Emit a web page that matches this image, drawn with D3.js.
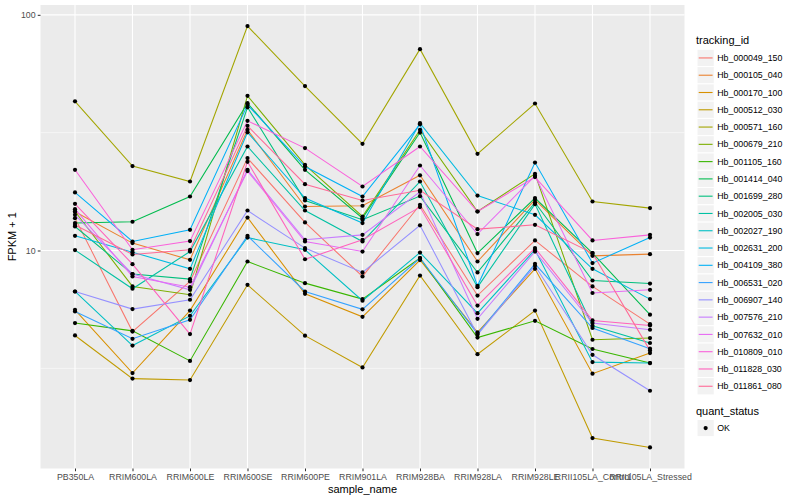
<!DOCTYPE html>
<html>
<head>
<meta charset="utf-8">
<script src="https://cdn.jsdelivr.net/npm/d3@7"></script>
<style>
  html, body { margin: 0; padding: 0; background: #ffffff; }
  svg { display: block; font-family: "Liberation Sans", Arial, Helvetica, sans-serif; }
</style>
</head>
<body>
<svg id="chart" width="800" height="500"></svg>
<script>
// ---------------- data ----------------
const samples = ["PB350LA","RRIM600LA","RRIM600LE","RRIM600SE","RRIM600PE","RRIM901LA",
  "RRIM928BA","RRIM928LA","RRIM928LE","RRII105LA_Control","RRII105LA_Stressed"];

const trackingIds = ["Hb_000049_150","Hb_000105_040","Hb_000170_100","Hb_000512_030","Hb_000571_160",
  "Hb_000679_210","Hb_001105_160","Hb_001414_040","Hb_001699_280","Hb_002005_030","Hb_002027_190",
  "Hb_002631_200","Hb_004109_380","Hb_006531_020","Hb_006907_140","Hb_007576_210","Hb_007632_010",
  "Hb_010809_010","Hb_011828_030","Hb_011861_080"];

// FPKM + 1 per sample (same order as samples)
const Hb_000049_150 = [13.72, 4.53, 7.39, 24.66, 13.15, 7.76, 15.63, 6.44, 11.03, 7.04, 4.87];
const Hb_000105_040 = [14.59, 10.75, 9.13, 32.5, 15.37, 15.48, 20.85, 8.98, 16.41, 9.49, 9.65];
const Hb_000170_100 = [5.60, 3.02, 5.56, 13.80, 6.55, 5.23, 9.11, 4.49, 8.36, 3.00, 3.67];
const Hb_000512_030 = [4.36, 2.86, 2.82, 7.15, 4.35, 3.19, 7.83, 3.63, 5.56, 1.60, 1.46];
const Hb_000571_160 = [42.95, 22.81, 19.62, 89.6, 49.85, 28.36, 71.5, 25.72, 42.04, 16.14, 15.13];
const Hb_000679_210 = [14.64, 7.04, 6.49, 45.33, 23.1, 13.94, 32.5, 14.64, 21.16, 4.18, 4.25];
const Hb_001105_160 = [4.92, 4.56, 3.40, 8.98, 7.27, 6.22, 9.29, 4.27, 5.03, 3.82, 3.33];
const Hb_001414_040 = [13.07, 13.24, 16.95, 42.2, 22.0, 13.72, 31.66, 9.75, 16.69, 9.75, 5.34];
const Hb_001699_280 = [12.64, 7.94, 7.56, 40.51, 16.30, 13.50, 17.01, 8.07, 15.98, 7.46, 7.24];
const Hb_002005_030 = [10.04, 6.88, 9.90, 27.62, 14.78, 10.92, 19.62, 6.99, 15.73, 4.79, 4.05];
const Hb_002027_190 = [6.70, 3.95, 5.28, 11.35, 10.07, 6.12, 9.80, 5.42, 10.07, 3.36, 3.33];
const Hb_002631_200 = [11.54, 9.84, 8.36, 31.73, 16.69, 13.07, 34.71, 17.11, 14.17, 8.36, 6.22];
const Hb_004109_380 = [17.63, 10.92, 12.24, 41.5, 22.72, 16.95, 34.3, 7.08, 23.62, 8.84, 11.35];
const Hb_006531_020 = [5.51, 4.22, 5.08, 11.54, 6.70, 5.63, 9.29, 4.43, 8.78, 4.69, 3.83];
const Hb_006907_140 = [6.70, 5.64, 6.18, 14.78, 10.24, 8.07, 12.79, 4.39, 8.61, 3.61, 2.54];
const Hb_007576_210 = [14.17, 7.94, 6.81, 22.0, 11.10, 11.65, 17.74, 5.13, 9.90, 4.92, 4.61];
const Hb_007632_010 = [14.98, 7.76, 6.99, 21.73, 10.92, 9.90, 22.94, 11.74, 20.75, 6.60, 6.81];
const Hb_010809_010 = [22.0, 10.07, 10.96, 35.5, 27.2, 18.69, 27.62, 14.64, 20.49, 11.03, 11.65];
const Hb_011828_030 = [15.78, 8.75, 4.42, 23.78, 9.18, 11.10, 15.28, 5.84, 10.24, 5.05, 4.81];
const Hb_011861_080 = [12.82, 9.62, 10.07, 33.8, 19.12, 16.30, 18.01, 12.32, 12.85, 9.75, 3.76];

const seriesValues = [Hb_000049_150, Hb_000105_040, Hb_000170_100, Hb_000512_030, Hb_000571_160,
  Hb_000679_210, Hb_001105_160, Hb_001414_040, Hb_001699_280, Hb_002005_030, Hb_002027_190,
  Hb_002631_200, Hb_004109_380, Hb_006531_020, Hb_006907_140, Hb_007576_210, Hb_007632_010,
  Hb_010809_010, Hb_011828_030, Hb_011861_080];

const quantStatus = ["OK"];
const yTickValues = [10, 100];
const yTickLabels = ["10", "100"];

// ---------------- colours (ggplot hue palette, polar LUV) ----------------
function hclLuv(h, c, l) {
  const hr = h * Math.PI / 180;
  const U = c * Math.cos(hr), V = c * Math.sin(hr);
  const Xn = 95.047, Yn = 100, Zn = 108.883;
  const Y = l > 8 ? Yn * Math.pow((l + 16) / 116, 3) : Yn * l / 903.3;
  const t = Xn + 15 * Yn + 3 * Zn;
  const un = 4 * Xn / t, vn = 9 * Yn / t;
  const u = U / (13 * l) + un, v = V / (13 * l) + vn;
  const X = 9 * Y * u / (4 * v);
  const Z = -X / 3 - 5 * Y + 3 * Y / v;
  const x = X / 100, y = Y / 100, z = Z / 100;
  let rgb = [
    3.240479 * x - 1.537150 * y - 0.498535 * z,
    -0.969256 * x + 1.875992 * y + 0.041556 * z,
    0.055648 * x - 0.204043 * y + 1.057311 * z
  ].map(q => {
    q = q <= 0.0031308 ? 12.92 * q : 1.055 * Math.pow(q, 1 / 2.4) - 0.055;
    return Math.round(Math.max(0, Math.min(1, q)) * 255);
  });
  return d3.rgb(rgb[0], rgb[1], rgb[2]).formatHex();
}
const n = trackingIds.length;
const colors = trackingIds.map((_, i) => hclLuv(15 + 360 / n * i, 100, 65));
const color = d3.scaleOrdinal().domain(trackingIds).range(colors);

// ---------------- layout ----------------
const svg = d3.select("#chart");
const panel = { left: 40.5, right: 684.5, top: 5, bottom: 468.5 };

const x = d3.scalePoint().domain(samples).range([panel.left, panel.right]).padding(0.6);

const allVals = seriesValues.flat();
const lmin = Math.log10(d3.min(allVals)), lmax = Math.log10(d3.max(allVals));
const ex = (lmax - lmin) * 0.05;
const y = d3.scaleLog().domain([Math.pow(10, lmin - ex), Math.pow(10, lmax + ex)])
  .range([panel.bottom, panel.top]);

// panel background
svg.append("rect").attr("x", panel.left).attr("y", panel.top)
  .attr("width", panel.right - panel.left).attr("height", panel.bottom - panel.top)
  .attr("fill", "#EBEBEB");

const grid = svg.append("g");
// minor y grid (half-decades in log space)
[Math.sqrt(10), Math.sqrt(1000)].forEach(v => {
  if (v > y.domain()[0] && v < y.domain()[1]) {
    grid.append("line").attr("x1", panel.left).attr("x2", panel.right)
      .attr("y1", y(v)).attr("y2", y(v)).attr("stroke", "#fff").attr("stroke-width", 0.55);
  }
});
yTickValues.forEach(v => {
  grid.append("line").attr("x1", panel.left).attr("x2", panel.right)
    .attr("y1", y(v)).attr("y2", y(v)).attr("stroke", "#fff").attr("stroke-width", 1.1);
});
samples.forEach(s => {
  grid.append("line").attr("x1", x(s)).attr("x2", x(s))
    .attr("y1", panel.top).attr("y2", panel.bottom).attr("stroke", "#fff").attr("stroke-width", 1.1);
});

// lines
const line = d3.line().x((d, i) => x(samples[i])).y(d => y(d));
svg.append("g").selectAll("path").data(seriesValues).join("path")
  .attr("d", d => line(d))
  .attr("fill", "none")
  .attr("stroke", (d, i) => color(trackingIds[i]))
  .attr("stroke-width", 1.05);

// points
const pts = [];
seriesValues.forEach((vals, i) => vals.forEach((v, j) => pts.push({ s: samples[j], v })));
svg.append("g").selectAll("circle").data(pts).join("circle")
  .attr("cx", d => x(d.s)).attr("cy", d => y(d.v)).attr("r", 2.1).attr("fill", "#000");

// axes
const yAxis = d3.axisLeft(y).tickValues(yTickValues)
  .tickFormat((d, i) => yTickLabels[i]).tickSize(2.75).tickPadding(2.2);
const gy = svg.append("g").attr("transform", `translate(${panel.left},0)`).call(yAxis);
const xAxis = d3.axisBottom(x).tickSize(2.75).tickPadding(2.2);
const gx = svg.append("g").attr("transform", `translate(0,${panel.bottom})`).call(xAxis);
[gx, gy].forEach(g => {
  g.select(".domain").remove();
  g.selectAll(".tick line").attr("stroke", "#333333").attr("stroke-width", 1.05);
  g.selectAll(".tick text").attr("fill", "#4D4D4D").style("font-size", "8.8px")
    .style("font-family", '"Liberation Sans", Arial, Helvetica, sans-serif');
});

// axis titles
svg.append("text").attr("x", (panel.left + panel.right) / 2).attr("y", 493)
  .attr("text-anchor", "middle").style("font-size", "11px").attr("fill", "#000").text("sample_name");
svg.append("text").attr("transform", `translate(16,${(panel.top + panel.bottom) / 2}) rotate(-90)`)
  .attr("text-anchor", "middle").style("font-size", "11px").attr("fill", "#000").text("FPKM + 1");

// legend: tracking_id
const lg = svg.append("g");
const keyX = 697, keyTop = 49.3, keySize = 17.28;
lg.append("text").attr("x", 696).attr("y", 44).style("font-size", "11px").attr("fill", "#000").text("tracking_id");
trackingIds.forEach((id, i) => {
  const ky = keyTop + i * keySize;
  lg.append("rect").attr("x", keyX).attr("y", ky).attr("width", keySize).attr("height", keySize)
    .attr("fill", "#F2F2F2").attr("stroke", "#fff").attr("stroke-width", 1);
  lg.append("line").attr("x1", keyX + 1.7).attr("x2", keyX + keySize - 1.7)
    .attr("y1", ky + keySize / 2).attr("y2", ky + keySize / 2)
    .attr("stroke", color(id)).attr("stroke-width", 1.1);
  lg.append("text").attr("x", keyX + keySize + 3).attr("y", ky + keySize / 2 + 3.1)
    .style("font-size", "8.8px").attr("fill", "#000").text(id);
});

// legend: quant_status
const q0 = keyTop + n * keySize + 11;
lg.append("text").attr("x", 696).attr("y", q0 + 9).style("font-size", "11px").attr("fill", "#000").text("quant_status");
quantStatus.forEach((s, i) => {
  const ky = q0 + 13.5 + i * keySize;
  lg.append("rect").attr("x", keyX).attr("y", ky).attr("width", keySize).attr("height", keySize)
    .attr("fill", "#F2F2F2").attr("stroke", "#fff").attr("stroke-width", 1);
  lg.append("circle").attr("cx", keyX + keySize / 2).attr("cy", ky + keySize / 2).attr("r", 2.1).attr("fill", "#000");
  lg.append("text").attr("x", keyX + keySize + 3).attr("y", ky + keySize / 2 + 3.1)
    .style("font-size", "8.8px").attr("fill", "#000").text(s);
});
</script>
</body>
</html>
